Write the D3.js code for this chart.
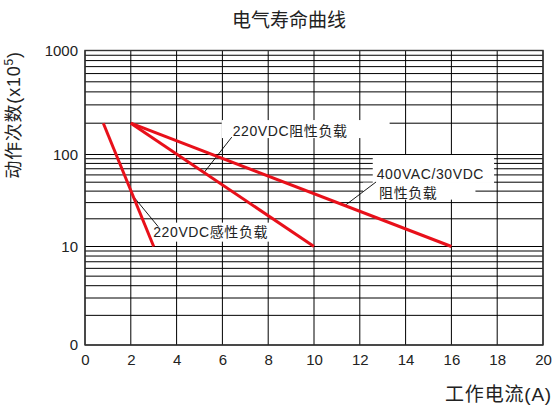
<!DOCTYPE html>
<html><head><meta charset="utf-8">
<script src="https://cdn.jsdelivr.net/npm/d3@7"></script>
<style>
html,body{margin:0;padding:0;background:#fff;}
svg{display:block;}
</style></head>
<body>
<svg id="chart" width="556" height="407"></svg>
<script>
// ---- data ----
const xTickValues = [0, 2, 4, 6, 8, 10, 12, 14, 16, 18, 20];
const yTickValues = [1, 10, 100, 1000];
const yTickLabels = ["0", "10", "100", "1000"];
const minorMultipliers = [2, 3, 4, 5, 6, 7, 8, 9];

const inductive220X = [0.8, 3];
const inductive220Y = [200, 10];
const resistive220X = [2, 10];
const resistive220Y = [200, 10];
const resistive400X = [2, 16];
const resistive400Y = [200, 10];

const seriesList = [
  {name: "220VDC感性负载", x: inductive220X, y: inductive220Y},
  {name: "220VDC阻性负载", x: resistive220X, y: resistive220Y},
  {name: "400VAC/30VDC阻性负载", x: resistive400X, y: resistive400Y}
];

const titleText = "电气寿命曲线";
const xLabelText = "工作电流(A)";

// annotations in data units
const annotations = [
  {series: 1, at: 5.2, from: [6.41, 147],
   lines: [{text: "220VDC阻性负载", x: 6.45, y: 168, pad: [11, 42, 7, 11]}]},
  {series: 2, at: 11.35, from: [12.71, 50.3],
   lines: [{text: "400VAC/30VDC", x: 12.74, y: 61.4, pad: [19, 10, 9, 4]},
           {text: "阻性负载", x: 12.84, y: 38.5, pad: [10, 38, 7, 16]}]},
  {series: 0, at: 2.1, from: [3.2, 16.4],
   lines: [{text: "220VDC感性负载", x: 2.98, y: 14.5, pad: [9, 5, 10, 3]}]}
];

// ---- drawing ----
const svg = d3.select("#chart");
const latin = "'Liberation Sans', Arial, 'Noto Sans CJK SC', sans-serif";
const cjk = "'Noto Sans CJK SC', 'Liberation Sans', sans-serif";
const ink = "#222";

const x = d3.scaleLinear().domain([0, 20]).range([85, 543]);
const y = d3.scaleLog().domain([1, 10, 100, 1000]).range([345, 246.5, 154.5, 50.5]);

const minorValues = [];
[1, 10, 100].forEach(d => minorMultipliers.forEach(m => minorValues.push(m * d)));

const gridLayer = svg.append("g");
const boxLayer = svg.append("g");
const leaderLayer = svg.append("g");
const seriesLayer = svg.append("g");
const textLayer = svg.append("g");

// horizontal grid
gridLayer.selectAll(".hg").data(minorValues.concat(yTickValues)).join("line")
  .attr("x1", x(0)).attr("x2", x(20))
  .attr("y1", d => y(d)).attr("y2", d => y(d))
  .attr("stroke", "#000").attr("stroke-width", 1);
// vertical grid
gridLayer.selectAll(".vg").data(xTickValues).join("line")
  .attr("x1", d => x(d)).attr("x2", d => x(d))
  .attr("y1", y(1)).attr("y2", y(1000))
  .attr("stroke", "#000").attr("stroke-width", 1);
gridLayer.append("rect").attr("x", x(0)).attr("y", y(1000))
  .attr("width", x(20) - x(0)).attr("height", y(1) - y(1000))
  .attr("fill", "none").attr("stroke", "#333").attr("stroke-width", 1.4);

// axes labels via d3 axes (no domain/tick lines)
const xAxis = d3.axisBottom(x).tickValues(xTickValues).tickSize(0).tickPadding(9);
svg.append("g").attr("transform", `translate(0,${y(1)})`).call(xAxis)
  .call(a => a.select(".domain").remove())
  .selectAll("text").attr("font-family", latin).attr("font-size", 15).attr("fill", ink);

const yAxis = d3.axisLeft(y).tickValues(yTickValues)
  .tickFormat((d, i) => yTickLabels[i]).tickSize(0).tickPadding(7);
svg.append("g").attr("transform", `translate(${x(0)},0)`).call(yAxis)
  .call(a => a.select(".domain").remove())
  .selectAll("text").attr("font-family", latin).attr("font-size", 15).attr("fill", ink);

// label texts and boxes
annotations.forEach(a => {
  a.lines.forEach(l => {
    const cx = x(l.x), cy = y(l.y);
    const t = textLayer.append("text").attr("x", cx).attr("y", cy)
      .attr("dy", "0.36em").attr("font-family", latin).attr("font-size", 14)
      .attr("letter-spacing", 0.6).attr("fill", ink).text(l.text);
    const w = t.node().getComputedTextLength();
    boxLayer.append("rect").attr("x", cx - l.pad[3]).attr("y", cy - l.pad[0])
      .attr("width", w + l.pad[3] + l.pad[1]).attr("height", l.pad[0] + l.pad[2])
      .attr("fill", "#fff");
  });
});

// leaders
function pointOn(s, xv) {
  const px0 = x(s.x[0]), px1 = x(s.x[1]);
  const py0 = y(s.y[0]), py1 = y(s.y[1]);
  const t = (x(xv) - px0) / (px1 - px0);
  return [x(xv), py0 + t * (py1 - py0)];
}
annotations.forEach(a => {
  const p = pointOn(seriesList[a.series], a.at);
  leaderLayer.append("line").attr("x1", x(a.from[0])).attr("y1", y(a.from[1]))
    .attr("x2", p[0]).attr("y2", p[1]).attr("stroke", "#000").attr("stroke-width", 0.9);
});

// series lines
const line = d3.line().x(d => x(d[0])).y(d => y(d[1]));
seriesLayer.selectAll("path").data(seriesList).join("path")
  .attr("d", s => line(s.x.map((v, i) => [v, s.y[i]])))
  .attr("fill", "none").attr("stroke", "#e8101a").attr("stroke-width", 3);

// title and axis titles
svg.append("text").attr("x", 289).attr("y", 27).attr("text-anchor", "middle")
  .attr("font-family", cjk).attr("font-size", 19).attr("fill", ink).text(titleText);
svg.append("text").attr("x", 552).attr("y", 401).attr("text-anchor", "end")
  .attr("font-family", latin).attr("font-size", 19).attr("letter-spacing", 0.8)
  .attr("fill", ink).text(xLabelText);
const yl = svg.append("text").attr("transform", "translate(20,115) rotate(-90)")
  .attr("text-anchor", "middle").attr("font-family", latin).attr("font-size", 18)
  .attr("letter-spacing", 0.8).attr("fill", ink);
yl.append("tspan").text("动作次数(x10");
yl.append("tspan").attr("font-size", 12).attr("dy", -7).text("5");
yl.append("tspan").attr("dy", 7).text(")");
</script>
</body></html>
